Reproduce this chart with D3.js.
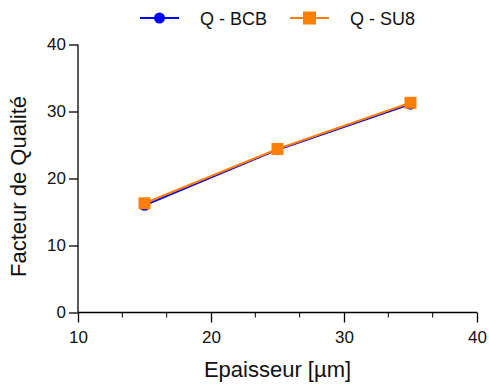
<!DOCTYPE html>
<html><head><meta charset="utf-8">
<script src="https://cdn.jsdelivr.net/npm/d3@7"></script>
<style>body{margin:0;background:#fff}svg{display:block}text{font-family:"Liberation Sans",Arial,sans-serif;fill:#111}</style>
</head><body>
<script>
const thickness = [15, 25, 35];
const qBCB = [16.0, 24.3, 31.1];
const qSU8 = [16.3, 24.4, 31.3];
const seriesNames = ["Q - BCB", "Q - SU8"];
const seriesColors = ["#0000ff", "#ff8000"];
const xTicks = [10, 20, 30, 40];
const yTicks = [0, 10, 20, 30, 40];
const xTitle = "Epaisseur [µm]";
const yTitle = "Facteur de Qualité";

const W = 489, H = 387;
const svg = d3.select("body").append("svg").attr("width", W).attr("height", H);
const x = d3.scaleLinear().domain([10, 40]).range([78, 477]);
const y = d3.scaleLinear().domain([0, 40]).range([312.5, 44.5]);

// axes
const xAxis = svg.append("g").attr("transform", `translate(0,${y(0)})`)
  .call(d3.axisBottom(x).tickValues(xTicks).tickSize(10).tickPadding(8).tickFormat(d3.format("d")));
const minor = d3.range(10, 40.001, 10/3).filter(v => Math.abs(v % 10) > 0.01 && Math.abs(v % 10 - 10) > 0.01);
xAxis.selectAll(".minor").data(minor).enter().append("line").attr("class","minor")
  .attr("x1", d => x(d)).attr("x2", d => x(d)).attr("y1", 0).attr("y2", 5).attr("stroke", "#000");
const yAxis = svg.append("g").attr("transform", `translate(${x(10)},0)`)
  .call(d3.axisLeft(y).tickValues(yTicks).tickSize(9).tickPadding(3).tickFormat(d3.format("d")));
[xAxis, yAxis].forEach(g => {
  g.select(".domain").attr("stroke", "#000").attr("stroke-width", 1.3);
  g.selectAll(".tick line").attr("stroke", "#000").attr("stroke-width", 1.3);
  g.selectAll("text").style("font-size", "17px").attr("fill", "#111").style("font-family", '"Liberation Sans",Arial,sans-serif');
});
xAxis.select(".domain").attr("d", `M${x(10)},0H${x(40)}`);
yAxis.select(".domain").attr("d", `M0,${y(0)}V${y(40)}`);

svg.append("text").attr("x", (x(10)+x(40))/2).attr("y", 377).attr("text-anchor", "middle")
  .style("font-size", "22px").text(xTitle);
svg.append("text").attr("transform", `translate(26,${(y(0)+y(40))/2 + 8}) rotate(-90)`).attr("text-anchor", "middle")
  .style("font-size", "22px").text(yTitle);

const line = d3.line().x((d,i) => x(thickness[i])).y(d => y(d));
const series = [qBCB, qSU8];
series.forEach((s, k) => {
  svg.append("path").datum(s).attr("d", line).attr("fill", "none")
    .attr("stroke", seriesColors[k]).attr("stroke-width", 2);
});
// markers
svg.selectAll(".c").data(qBCB).enter().append("circle")
  .attr("cx", (d,i) => x(thickness[i])).attr("cy", d => y(d)).attr("r", 5.5).attr("fill", seriesColors[0]);
svg.selectAll(".s").data(qSU8).enter().append("rect")
  .attr("x", (d,i) => x(thickness[i]) - 6).attr("y", d => y(d) - 6).attr("width", 12).attr("height", 12).attr("fill", seriesColors[1]);

// legend
const legX = [140, 290];
seriesNames.forEach((n, k) => {
  const g = svg.append("g").attr("transform", `translate(${legX[k]},18)`);
  g.append("line").attr("x1", 0).attr("x2", 39).attr("stroke", seriesColors[k]).attr("stroke-width", 2);
  if (k === 0) g.append("circle").attr("cx", 19.5).attr("r", 5.5).attr("fill", seriesColors[k]);
  else g.append("rect").attr("x", 13).attr("y", -6.5).attr("width", 13).attr("height", 13).attr("fill", seriesColors[k]);
  g.append("text").attr("x", 60).attr("y", 7).style("font-size", "18px").text(n);
});
</script>
</body></html>
